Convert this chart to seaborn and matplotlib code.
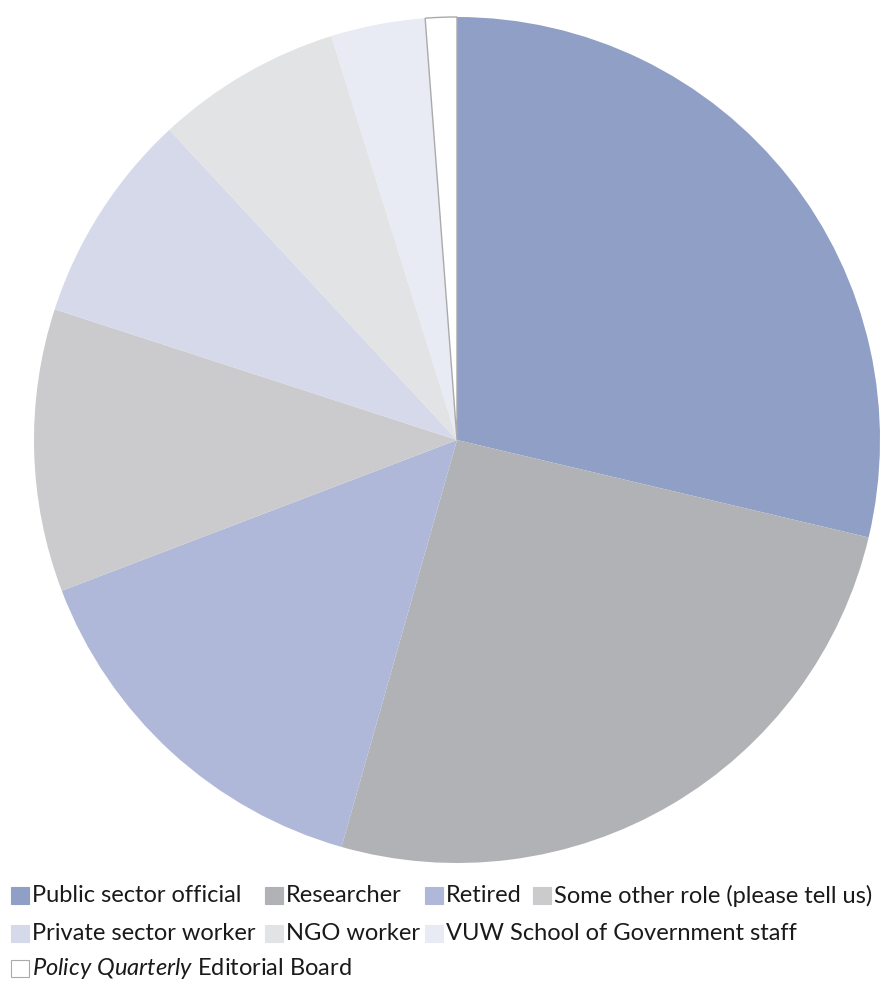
import matplotlib
matplotlib.use("Agg")
import matplotlib.pyplot as plt
import seaborn as sns
from matplotlib.patches import Rectangle

categories = ["Public sector official", "Researcher", "Retired",
              "Some other role (please tell us)", "Private sector worker",
              "NGO worker", "VUW School of Government staff",
              "Policy Quarterly Editorial Board"]
shares = [28.7, 25.7, 14.8, 10.8, 8.1, 7.1, 3.6, 1.2]
colors = ["#909fc5", "#b1b2b5", "#afb8d8", "#cbcbcd", "#d5d9ea",
          "#e2e3e4", "#e8eaf4", "#ffffff"]

sns.set_theme(style="white")
plt.rcParams['font.family'] = ['Lato', 'DejaVu Sans']
plt.rcParams['mathtext.fontset'] = 'custom'
plt.rcParams['mathtext.it'] = 'Lato:italic'
plt.rcParams['mathtext.rm'] = 'Lato'

W, H = 889, 981
fig = plt.figure(figsize=(W / 100, H / 100), dpi=100)
fig.patch.set_facecolor("white")
ax = fig.add_axes([34 / W, (H - 863) / H, 846 / W, 846 / H])
wedges, _ = ax.pie(shares, colors=colors, startangle=90, counterclock=False,
                   radius=1.0, wedgeprops=dict(linewidth=0))
wedges[-1].set_edgecolor("#aaaaaa")
wedges[-1].set_linewidth(1.0)
ax.set_xlim(-1, 1)
ax.set_ylim(-1, 1)
ax.axis("off")

labels = list(categories)
labels[-1] = r"$\it{Policy\ Quarterly}$ Editorial Board"

# legend layout (pixel positions of marker left edge, row centre)
slots = [(11, 895.5), (265, 895.5), (425, 895.5), (533, 895.5),
         (11, 933), (265, 933), (425, 933),
         (11, 968.5)]
for i, (x, y) in enumerate(slots):
    rect = Rectangle((x / W, 1 - (y + 8.5) / H), 18 / W, 17 / H,
                     transform=fig.transFigure, facecolor=colors[i],
                     edgecolor="#aaaaaa" if i == 7 else colors[i],
                     linewidth=0.8)
    fig.patches.append(rect)
    fig.text((x + 21) / W, 1 - y / H, labels[i], fontsize=17,
             color="#1a1a1a", va="center", ha="left")

fig.savefig("out.png", dpi=100)
